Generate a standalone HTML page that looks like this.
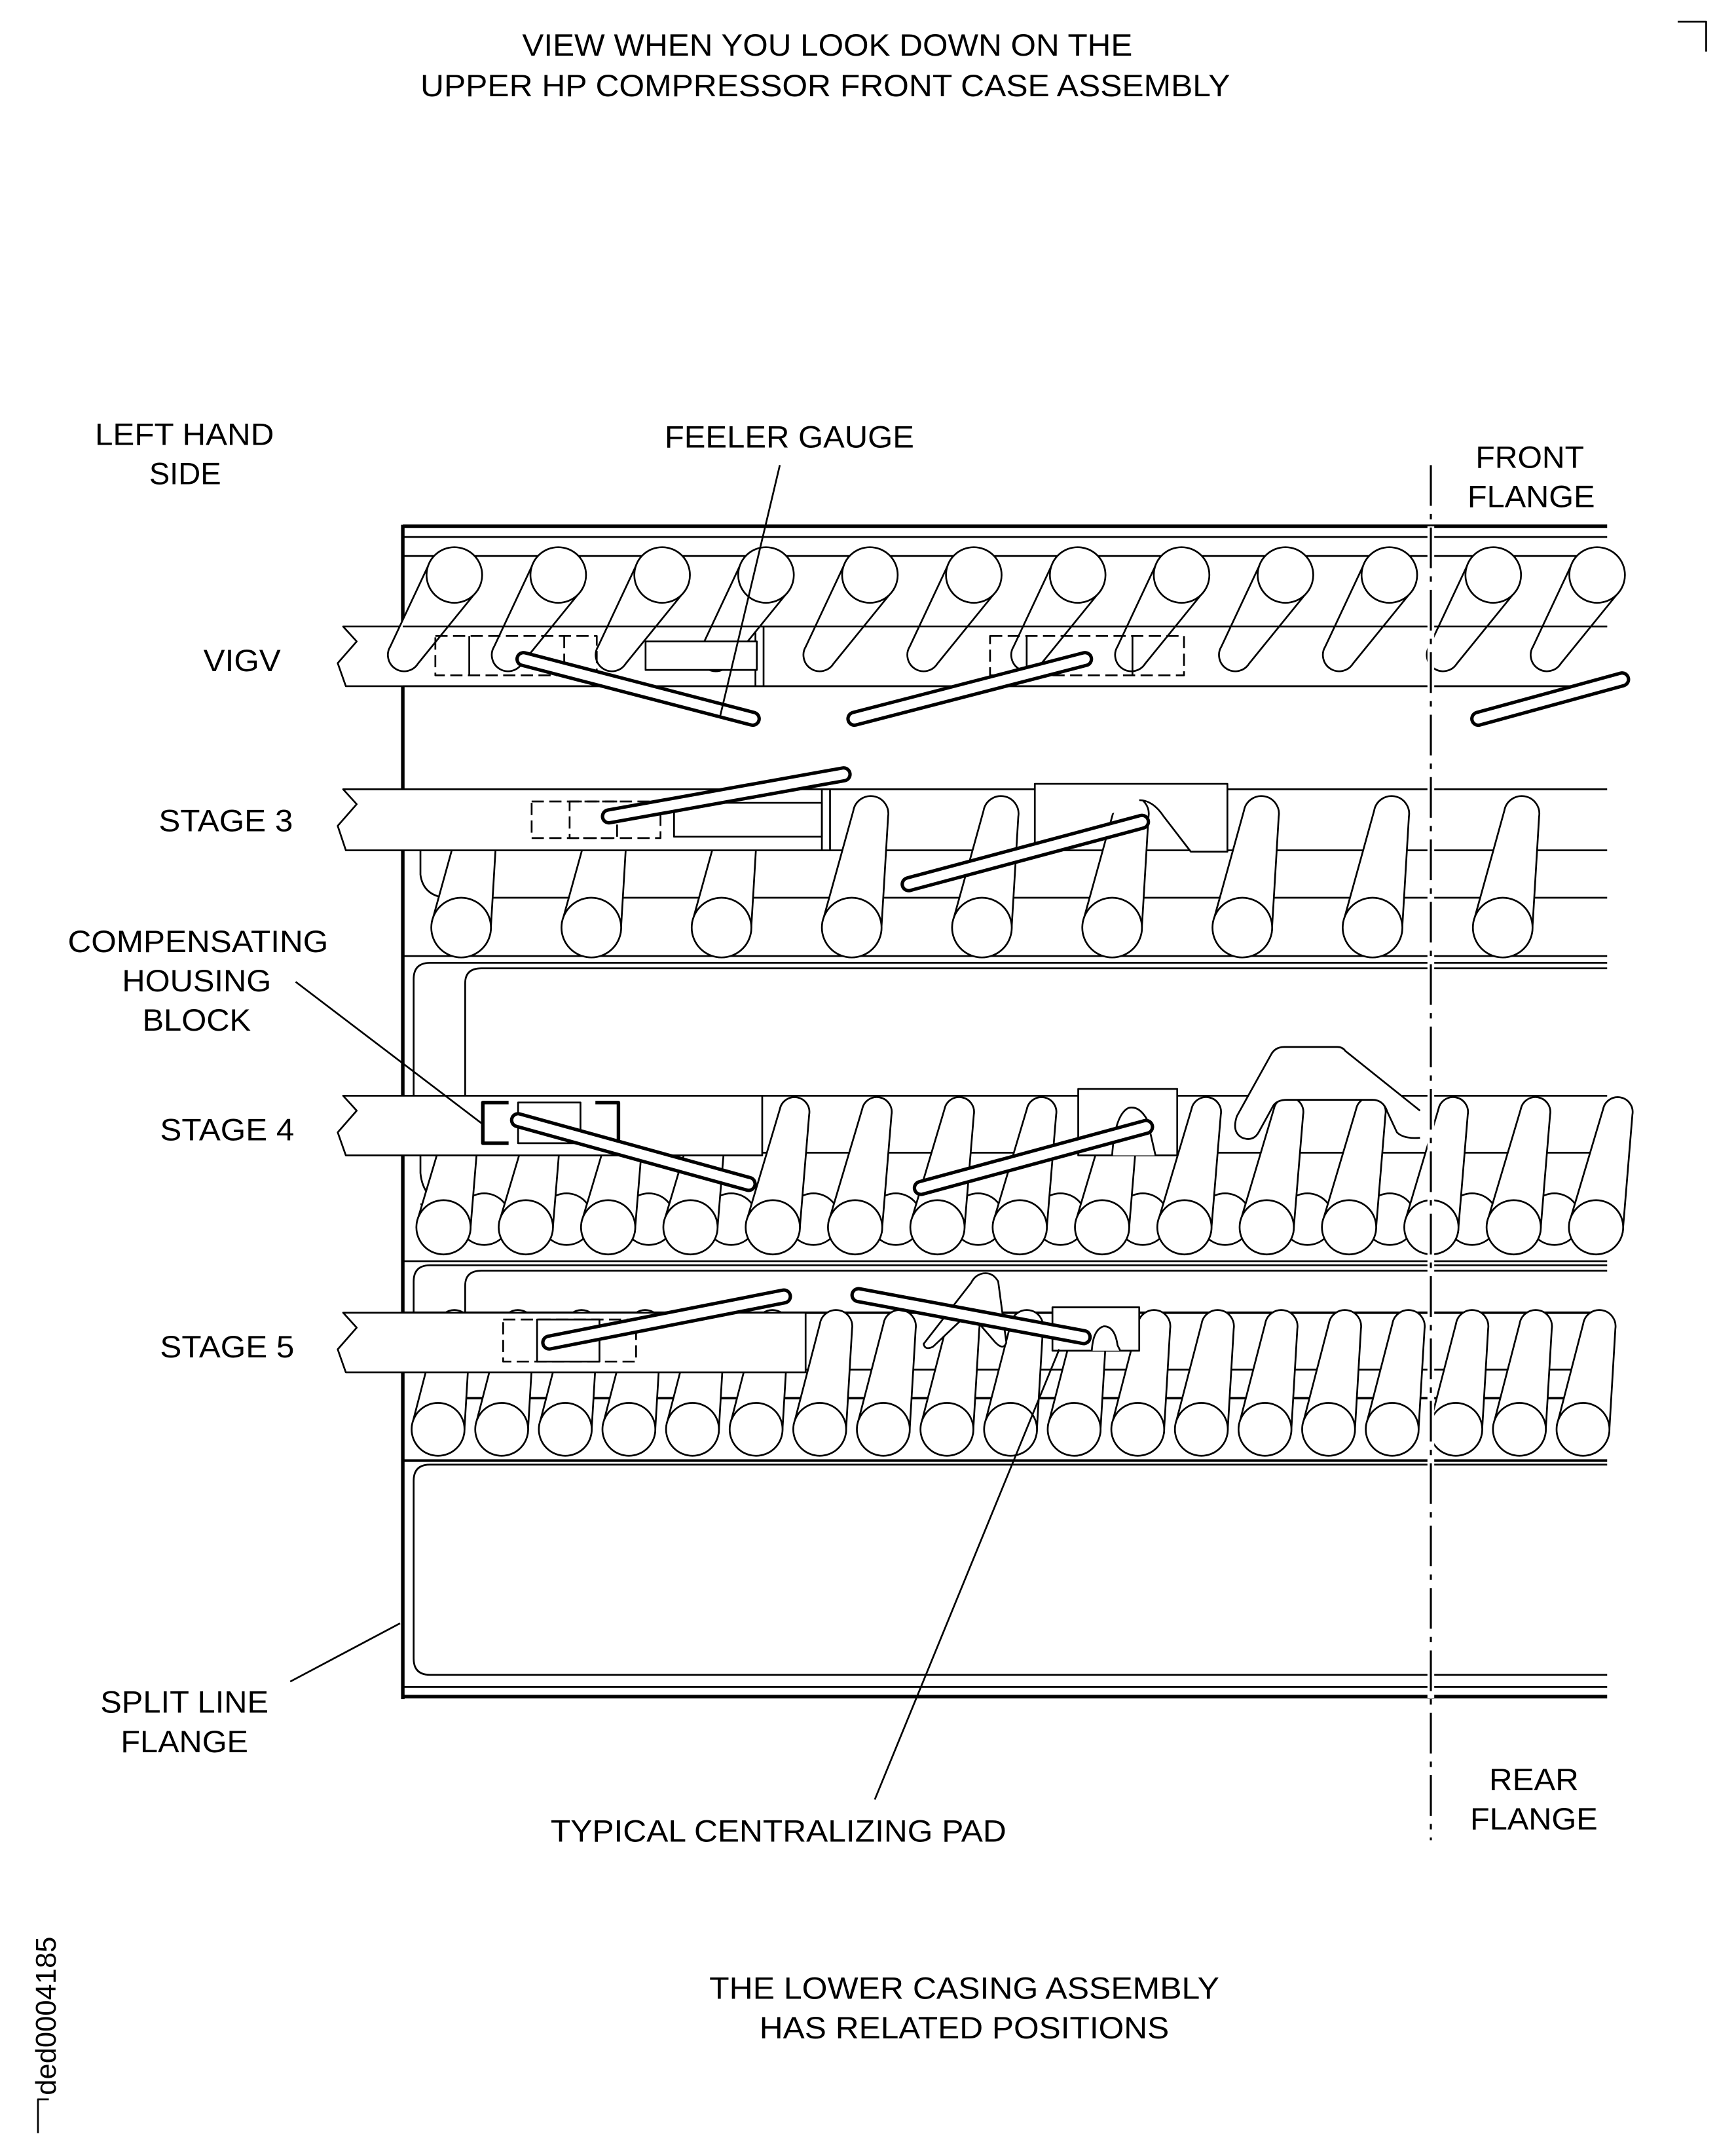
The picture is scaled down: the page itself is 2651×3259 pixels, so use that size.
<!DOCTYPE html>
<html><head><meta charset="utf-8"><style>
html,body{margin:0;padding:0;background:#fff;}
svg{display:block;}
text{font-family:"Liberation Sans",Arial,sans-serif;font-size:23px;fill:#000;}
</style></head><body>
<svg id="s" xmlns="http://www.w3.org/2000/svg" width="2651" height="3259" viewBox="0 0 1280 1573.6" preserveAspectRatio="none">
<rect width="1280" height="1574" fill="#fff"/>
<g id="g" fill="none" stroke="#000" stroke-width="1.3" stroke-linejoin="round"></g>
<g>
<text x="385" y="41" textLength="450" lengthAdjust="spacingAndGlyphs">VIEW WHEN YOU LOOK DOWN ON THE</text>
<text x="310" y="71" textLength="597" lengthAdjust="spacingAndGlyphs">UPPER HP COMPRESSOR FRONT CASE ASSEMBLY</text>
<text x="70" y="328" textLength="132" lengthAdjust="spacingAndGlyphs">LEFT HAND</text>
<text x="110" y="357" textLength="53" lengthAdjust="spacingAndGlyphs">SIDE</text>
<text x="490" y="330" textLength="184" lengthAdjust="spacingAndGlyphs">FEELER GAUGE</text>
<text x="1088" y="345" textLength="80" lengthAdjust="spacingAndGlyphs">FRONT</text>
<text x="1082" y="374" textLength="94" lengthAdjust="spacingAndGlyphs">FLANGE</text>
<text x="150" y="495" textLength="57" lengthAdjust="spacingAndGlyphs">VIGV</text>
<text x="117" y="613" textLength="99" lengthAdjust="spacingAndGlyphs">STAGE 3</text>
<text x="50" y="702" textLength="192" lengthAdjust="spacingAndGlyphs">COMPENSATING</text>
<text x="90" y="731" textLength="110" lengthAdjust="spacingAndGlyphs">HOUSING</text>
<text x="105" y="760" textLength="80" lengthAdjust="spacingAndGlyphs">BLOCK</text>
<text x="118" y="841" textLength="99" lengthAdjust="spacingAndGlyphs">STAGE 4</text>
<text x="118" y="1001" textLength="99" lengthAdjust="spacingAndGlyphs">STAGE 5</text>
<text x="74" y="1263" textLength="124" lengthAdjust="spacingAndGlyphs">SPLIT LINE</text>
<text x="89" y="1292" textLength="94" lengthAdjust="spacingAndGlyphs">FLANGE</text>
<text x="1098" y="1320" textLength="66" lengthAdjust="spacingAndGlyphs">REAR</text>
<text x="1084" y="1349" textLength="94" lengthAdjust="spacingAndGlyphs">FLANGE</text>
<text x="406" y="1358" textLength="336" lengthAdjust="spacingAndGlyphs">TYPICAL CENTRALIZING PAD</text>
<text x="523" y="1474" textLength="376" lengthAdjust="spacingAndGlyphs">THE LOWER CASING ASSEMBLY</text>
<text x="560" y="1503" textLength="302" lengthAdjust="spacingAndGlyphs">HAS RELATED POSITIONS</text>
<text transform="translate(41,1545) rotate(-90)" x="0" y="0" textLength="117" lengthAdjust="spacingAndGlyphs" style="font-size:21px">ded0004185</text>
</g>
</svg>
<script>
var o=[];
function L(a,b,c,d,w){o.push('<line x1="'+a+'" y1="'+b+'" x2="'+c+'" y2="'+d+'"'+(w?' stroke-width="'+w+'"':'')+'/>');}
function P(d,f,w,x){o.push('<path d="'+d+'"'+(f?' fill="'+f+'"':'')+(w?' stroke-width="'+w+'"':'')+(x||'')+'/>');}
function C(x,y,r){o.push('<ellipse cx="'+x+'" cy="'+y+'" rx="'+r+'" ry="'+r+'" fill="#fff"/>');}
function cyl(cx,cy,r,tx,ty,w){var dx=tx-cx,dy=ty-cy,l=Math.sqrt(dx*dx+dy*dy);dx/=l;dy/=l;var px=-dy,py=dx;
P('M'+(cx+px*r)+','+(cy+py*r)+' L'+(tx+px*w)+','+(ty+py*w)+' A'+w+','+w+' 0 0 0 '+(tx-px*w)+','+(ty-py*w)+' L'+(cx-px*r)+','+(cy-py*r)+' Z','#fff');}
function R(x1,y1,x2,y2,f,w,x){o.push('<rect x="'+x1+'" y="'+y1+'" width="'+(x2-x1)+'" height="'+(y2-y1)+'"'+(f?' fill="'+f+'"':'')+(w?' stroke-width="'+w+'"':'')+(x||'')+'/>');}
function G(a,b,c,d){o.push('<line x1="'+a+'" y1="'+b+'" x2="'+c+'" y2="'+d+'" stroke-width="12" stroke-linecap="round"/>');o.push('<line x1="'+a+'" y1="'+b+'" x2="'+c+'" y2="'+d+'" stroke="#fff" stroke-width="7" stroke-linecap="round"/>');}
function bar(y1,y2,xe){var z=' L253,'+y1+' L263,'+(y1+11)+' L249,'+(y1+27)+' L255,'+y2+' L'+xe+','+y2;
if(xe<1185)P('M'+xe+','+y1+z+' Z','#fff');else P('M1185,'+y1+z,'#fff');}
var D=' stroke-dasharray="9 4"';
// frame
L(297,388,1185,388,2.6);L(297,396,1185,396);L(297,410,1185,410);
L(297,387,297,1253,2.6);
L(297,1244,1185,1244);L(297,1251,1185,1251,2.6);
// VIGV bar first (stems visible inside)
bar(462,506,1185);
L(557,462,557,506);L(563,462,563,506);
for(var k=0;k<12;k++){var cx=335+76.6*k;cyl(cx,424,20.5,cx-37,483,12);}
for(var k=0;k<12;k++){var cx=335+76.6*k;C(cx,424,20.5);}
L(297,462,1185,462);L(297,506,1185,506);
R(321,469,440,498,null,null,D);L(346,469,346,498);o.push('<line x1="416" y1="469" x2="416" y2="498" stroke-dasharray="9 4"/>');
R(476,473,558,494,'#fff');
R(730,469,873,498,null,null,D);L(757,469,757,498);L(835,469,835,498);
// stage 3
L(297,582,1185,582);L(297,627,1185,627);L(325,662,1185,662);L(297,705,1185,705);
P('M310,627 L310,645 Q312,660 328,662');
for(var k=0;k<9;k++){var cx=340+96*k;cyl(cx,684,22,cx+14,600,13);}
for(var k=0;k<9;k++){var cx=340+96*k;C(cx,684,22);}
bar(582,627,612);
R(392,591,487,618,null,null,D);R(420,591,455,618,null,null,D);
R(497,592,606,617,'#fff');L(606,582,606,627);
P('M763,628 L763,578 L905,578 L905,628 L878,628 L858,602 Q850,590 840,590','#fff');
// compensating region
P('M305,808 L305,722 Q305,710 317,710 L1185,710');
P('M343,808 L343,725 Q343,714 355,714 L1185,714');
// stage 4
L(297,808,1185,808);L(297,850,1185,850);L(310,888,1185,888);L(297,930,1185,930);
P('M310,850 L310,865 Q312,885 330,888');
for(var k=0;k<14;k++){C(357+60.7*k,899,19);}
for(var k=0;k<15;k++){var cx=327+60.7*k;cyl(cx,905,20,cx+16,820,11);}
for(var k=0;k<15;k++){C(327+60.7*k,905,20);}
bar(808,852,562);
P('M375,813 L356,813 L356,843 L375,843',null,2.6);P('M439,813 L456,813 L456,843 L439,843',null,2.6);
R(382,813,428,843);
R(795,803,868,852,'#fff');
P('M820,852 Q822,822 832,817 Q840,815 846,826 L852,852','#fff');
P('M1047,819 L992,775 Q990,772 986,772 L947,772 Q940,772 937,778 L912,823 Q908,835 916,839 Q924,842 928,835 L939,815 Q942,811 949,811 L1012,811 Q1020,811 1023,820 L1030,835 Q1035,840 1047,839','#fff');
// stage 5
P('M305,968 L305,945 Q305,933 317,933 L1185,933');
P('M343,968 L343,948 Q343,937 355,937 L1185,937');
L(297,968,1185,968,1.8);L(297,1010,1185,1010);L(310,1031,1185,1031,1.8);L(297,1077,1185,1077,2);
for(var k=0;k<19;k++){var cx=323+46.9*k;cyl(cx,1054,19.5,cx+12,978,12);}
for(var k=0;k<19;k++){C(323+46.9*k,1054,19.5);}
bar(968,1012,594);
R(371,973,469,1004,null,null,D);R(396,973,442,1004);
R(776,964,840,996,'#fff');
P('M805,996 Q806,980 814,978 Q822,978 824,992 L826,996','#fff');
P('M681,991 Q682,996 688,993 L707,975 Q714,969 721,975 L734,990 Q740,996 742,990 L736,945 Q732,938 725,939 Q719,940 716,946 Z','#fff');
// bottom region
P('M1185,1080 L317,1080 Q305,1080 305,1092 L305,1223 Q305,1235 317,1235 L1185,1235');
// gauges
G(386,486,555,530);G(630,530,800,486);G(1090,530,1196,501);
G(449,602,622,571);G(670,652,842,606);
G(382,826,552,873);G(679,876,845,831);
G(405,990,578,956);G(633,955,799,986);
// leaders
L(575,343,531,528);L(218,724,356,829);L(214,1240,295,1197);L(645,1327,781,995);
// centerline
o.push('<line x1="1055" y1="388" x2="1055" y2="1252" stroke="#fff" stroke-width="5"/>');
o.push('<line x1="1055" y1="343" x2="1055" y2="1357" stroke-width="1.5" stroke-dasharray="30 6 4 6"/>');
P('M1237,16 L1258,16 L1258,38');
P('M28,1573 L28,1548 L36,1548');
document.getElementById('g').innerHTML=o.join('');
</script>
</body></html>
